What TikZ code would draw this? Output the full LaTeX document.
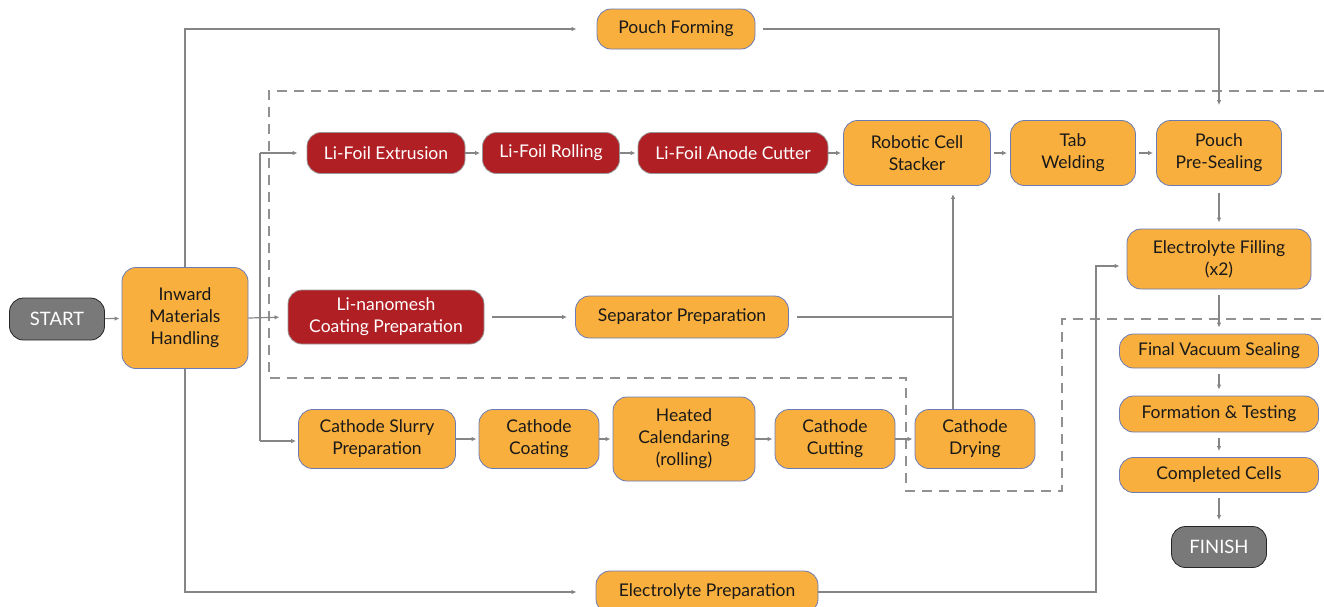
\documentclass[tikz,border=0pt]{standalone}
\usepackage{fontspec}
\setmainfont{Lato}
\usetikzlibrary{arrows.meta}
\definecolor{orng}{HTML}{F9AF3D}
\definecolor{obrd}{HTML}{6A7BB8}
\definecolor{redb}{HTML}{B01F24}
\definecolor{gryb}{HTML}{797979}
\definecolor{lnc}{HTML}{858585}
\begin{document}
\begin{tikzpicture}[x=1pt,y=-1pt,
  base/.style={align=center, inner sep=0pt, line width=0.8pt, font=\fontsize{17.5}{22}\selectfont},
  box/.style={base, draw=obrd, fill=orng, text=black!90, rounded corners=14pt},
  rbox/.style={base, draw=gray!80, fill=redb, text=white, rounded corners=14pt},
  gbox/.style={base, draw=black!85, fill=gryb, text=white, rounded corners=14pt, font=\fontsize{18.5}{22}\selectfont},
  sz/.style 2 args={minimum width=#1, minimum height=#2},
  ln/.style={draw=lnc, line width=1.2pt},
  arr/.style={ln, -{Latex[length=5pt,width=4.5pt]}},
  dsh/.style={draw=lnc!90, line width=1.3pt, dash pattern=on 10pt off 7pt}
]
\useasboundingbox (0,0) rectangle (1324,606);
% dashed region
\draw[dsh] (1324,91) -- (269,91) -- (269,378) -- (906,378) -- (906,491) -- (1062,491) -- (1062,319) -- (1324,319);
% nodes
\node[gbox, sz={95}{42}] (start) at (57,319) {START};
\node[box, sz={126}{101}] (inward) at (185,318) {Inward\\Materials\\Handling};
\node[box, sz={158}{40}] (pouchF) at (676,29) {Pouch Forming};
\node[rbox, sz={158}{41}] (ext) at (386,153) {Li-Foil Extrusion};
\node[rbox, sz={137}{41}] (roll) at (551,153) {Li-Foil Rolling};
\node[rbox, sz={190}{41}] (acut) at (733,153) {Li-Foil Anode Cutter};
\node[box, sz={147}{65}] (stack) at (917,153) {Robotic Cell\\Stacker};
\node[box, sz={125}{65}] (tab) at (1073,153) {Tab\\Welding};
\node[box, sz={125}{65}] (preseal) at (1219,153) {Pouch\\Pre-Sealing};
\node[box, sz={184}{60}] (fill) at (1219,259) {Electrolyte Filling\\(x2)};
\node[rbox, sz={196}{54}] (nano) at (386,317) {Li-nanomesh\\Coating Preparation};
\node[box, sz={213}{42}] (sep) at (682,317) {Separator Preparation};
\node[box, sz={157}{59}] (slurry) at (377,439) {Cathode Slurry\\Preparation};
\node[box, sz={120}{59}] (coat) at (539,439) {Cathode\\Coating};
\node[box, sz={142}{84}] (heat) at (684,439) {Heated\\Calendaring\\(rolling)};
\node[box, sz={120}{59}] (ccut) at (835,439) {Cathode\\Cutting};
\node[box, sz={120}{59}] (dry) at (975,439) {Cathode\\Drying};
\node[box, sz={199}{34}] (final) at (1219,351) {Final Vacuum Sealing};
\node[box, sz={199}{36}] (form) at (1219,414) {Formation \& Testing};
\node[box, sz={199}{35}] (comp) at (1219,475) {Completed Cells};
\node[gbox, sz={95}{41}] (finish) at (1219,547) {FINISH};
\node[box, sz={222}{42}] (elprep) at (707,592) {Electrolyte Preparation};
% coordinates
\coordinate (tA) at (260,153);
\coordinate (tB) at (260,441);
\coordinate (jn) at (953,317);
\coordinate (ej) at (1096,592);
% connectors
\draw[arr, shorten >=2pt] (start) -- (inward);
\draw[arr, shorten >=8pt] (inward.east) -- (nano.west);
\draw[ln] (tA) -- (tB);
\draw[arr, shorten >=9pt] (tA) -- (ext.west);
\draw[arr, shorten >=2pt] (tB) -- (tB -| slurry.west);
\draw[arr, shorten >=20pt] (inward.north) |- (pouchF.west);
\draw[arr, shorten >=19pt] (inward.south) |- (elprep.west);
\draw[arr, shorten <=8pt, shorten >=15pt] (pouchF.east) -| (preseal.north);
\draw[arr, shorten >=2pt] (ext) -- (roll);
\draw[arr, shorten >=2pt] (roll) -- (acut);
\draw[arr, shorten >=2pt] (acut) -- (stack);
\draw[arr, shorten <=3pt, shorten >=3pt] (stack) -- (tab);
\draw[arr, shorten <=3pt, shorten >=3pt] (tab) -- (preseal);
\draw[arr, shorten <=7pt, shorten >=6pt] (preseal) -- (fill);
\draw[arr, shorten <=6pt, shorten >=6pt] (fill) -- (final);
\draw[arr, shorten <=6pt, shorten >=6pt] (final) -- (form);
\draw[arr, shorten <=6pt, shorten >=6pt] (form) -- (comp);
\draw[arr, shorten <=5pt, shorten >=6pt] (comp) -- (finish);
\draw[arr, shorten <=8pt, shorten >=8pt] (nano) -- (sep);
\draw[ln, shorten <=8pt] (sep.east) -- (jn);
\draw[arr, shorten >=8pt] (jn |- dry.north) -- (jn |- stack.south);
\draw[arr, shorten >=2pt] (slurry) -- (coat);
\draw[arr, shorten >=2pt] (coat) -- (heat);
\draw[arr, shorten >=2pt] (heat) -- (ccut);
\draw[arr, shorten >=2pt] (ccut) -- (dry);
\draw[arr, shorten >=7pt] (elprep.east) -- (ej) |- ([yshift=-7pt]fill.west);
\end{tikzpicture}
\end{document}
